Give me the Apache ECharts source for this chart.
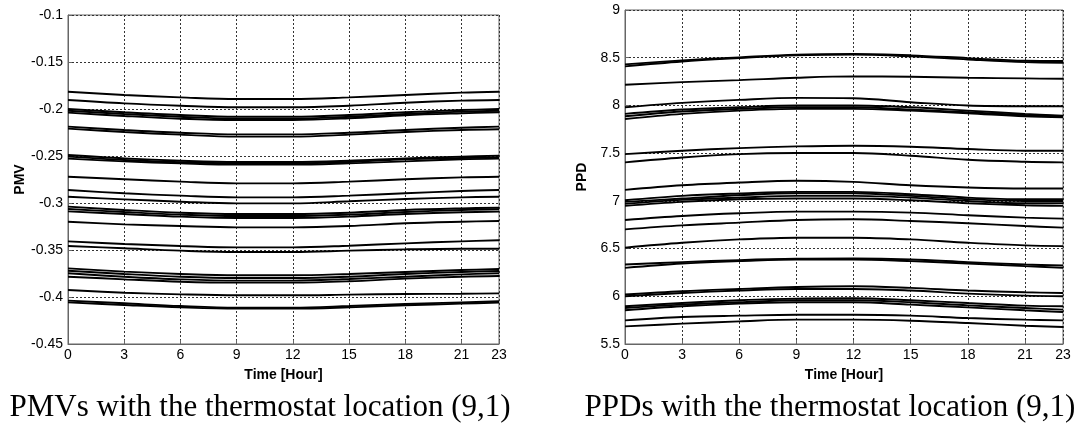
<!DOCTYPE html>
<html>
<head>
<meta charset="utf-8">
<script src="https://cdn.jsdelivr.net/npm/echarts@6/dist/echarts.min.js"></script>
<style>
html,body{margin:0;padding:0;background:#fff;}
#c{width:1086px;height:430px;}
</style>
</head>
<body>
<div id="c"></div>
<script>
// Sampled hours (x values) at which line values were read
const hours = [0, 3, 6, 9, 12, 15, 18, 21, 23];

// PMV lines (one array per line, values at the hours above)
const pmvLines = [
  [-0.1816, -0.1851, -0.1876, -0.1894, -0.1894, -0.1876, -0.1851, -0.1826, -0.1816],
  [-0.1904, -0.1940, -0.1965, -0.1982, -0.1982, -0.1965, -0.1933, -0.1911, -0.1904],
  [-0.2000, -0.2035, -0.2064, -0.2082, -0.2082, -0.2064, -0.2035, -0.2011, -0.2000],
  [-0.2018, -0.2053, -0.2082, -0.2103, -0.2103, -0.2082, -0.2053, -0.2028, -0.2018],
  [-0.2039, -0.2074, -0.2103, -0.2117, -0.2117, -0.2099, -0.2067, -0.2046, -0.2035],
  [-0.2188, -0.2223, -0.2252, -0.2270, -0.2270, -0.2252, -0.2223, -0.2199, -0.2188],
  [-0.2209, -0.2245, -0.2273, -0.2294, -0.2294, -0.2273, -0.2245, -0.2223, -0.2216],
  [-0.2489, -0.2525, -0.2550, -0.2564, -0.2564, -0.2550, -0.2525, -0.2507, -0.2496],
  [-0.2507, -0.2543, -0.2567, -0.2578, -0.2578, -0.2564, -0.2535, -0.2521, -0.2514],
  [-0.2528, -0.2557, -0.2578, -0.2592, -0.2592, -0.2578, -0.2557, -0.2535, -0.2528],
  [-0.2720, -0.2748, -0.2773, -0.2791, -0.2791, -0.2773, -0.2748, -0.2727, -0.2720],
  [-0.2862, -0.2897, -0.2922, -0.2940, -0.2940, -0.2922, -0.2897, -0.2872, -0.2862],
  [-0.2933, -0.2961, -0.2986, -0.3004, -0.3004, -0.2982, -0.2957, -0.2940, -0.2933],
  [-0.3039, -0.3074, -0.3103, -0.3117, -0.3117, -0.3103, -0.3074, -0.3057, -0.3050],
  [-0.3064, -0.3096, -0.3124, -0.3138, -0.3138, -0.3124, -0.3096, -0.3074, -0.3067],
  [-0.3089, -0.3117, -0.3145, -0.3160, -0.3160, -0.3145, -0.3117, -0.3099, -0.3092],
  [-0.3199, -0.3227, -0.3245, -0.3259, -0.3259, -0.3245, -0.3216, -0.3199, -0.3191],
  [-0.3408, -0.3436, -0.3457, -0.3472, -0.3472, -0.3454, -0.3429, -0.3408, -0.3397],
  [-0.3457, -0.3482, -0.3507, -0.3521, -0.3521, -0.3507, -0.3493, -0.3486, -0.3486],
  [-0.3695, -0.3730, -0.3755, -0.3769, -0.3769, -0.3755, -0.3734, -0.3713, -0.3702],
  [-0.3720, -0.3755, -0.3784, -0.3798, -0.3798, -0.3784, -0.3755, -0.3734, -0.3723],
  [-0.3748, -0.3784, -0.3812, -0.3826, -0.3826, -0.3808, -0.3784, -0.3759, -0.3748],
  [-0.3784, -0.3812, -0.3837, -0.3847, -0.3847, -0.3833, -0.3805, -0.3784, -0.3777],
  [-0.3926, -0.3954, -0.3972, -0.3982, -0.3982, -0.3975, -0.3968, -0.3965, -0.3961],
  [-0.4039, -0.4067, -0.4096, -0.4113, -0.4113, -0.4096, -0.4074, -0.4057, -0.4046],
  [-0.4057, -0.4085, -0.4110, -0.4124, -0.4124, -0.4110, -0.4088, -0.4071, -0.4060]
];

// PPD lines (one array per line, values at the hours above)
const ppdLines = [
  [8.430, 8.472, 8.504, 8.532, 8.539, 8.525, 8.496, 8.468, 8.465],
  [8.409, 8.461, 8.496, 8.525, 8.532, 8.514, 8.482, 8.454, 8.447],
  [8.216, 8.244, 8.265, 8.290, 8.304, 8.300, 8.290, 8.283, 8.279],
  [7.981, 8.027, 8.058, 8.079, 8.076, 8.034, 7.999, 7.992, 7.992],
  [7.911, 7.957, 7.981, 7.999, 7.999, 7.981, 7.946, 7.911, 7.893],
  [7.886, 7.936, 7.964, 7.981, 7.981, 7.957, 7.929, 7.900, 7.886],
  [7.858, 7.911, 7.946, 7.964, 7.964, 7.946, 7.918, 7.886, 7.876],
  [7.490, 7.525, 7.553, 7.571, 7.578, 7.567, 7.543, 7.525, 7.525],
  [7.403, 7.455, 7.490, 7.501, 7.501, 7.473, 7.431, 7.410, 7.403],
  [7.115, 7.164, 7.192, 7.210, 7.199, 7.164, 7.140, 7.129, 7.129],
  [7.006, 7.052, 7.077, 7.094, 7.094, 7.070, 7.034, 7.017, 7.017],
  [6.989, 7.024, 7.059, 7.080, 7.080, 7.052, 7.017, 6.999, 6.999],
  [6.968, 7.010, 7.034, 7.052, 7.052, 7.034, 6.999, 6.975, 6.975],
  [6.947, 6.989, 7.017, 7.024, 7.024, 7.006, 6.975, 6.954, 6.947],
  [6.800, 6.842, 6.870, 6.887, 6.887, 6.877, 6.849, 6.824, 6.814],
  [6.701, 6.743, 6.772, 6.800, 6.807, 6.789, 6.765, 6.736, 6.719],
  [6.509, 6.561, 6.596, 6.614, 6.614, 6.596, 6.561, 6.533, 6.526],
  [6.333, 6.358, 6.379, 6.393, 6.396, 6.386, 6.358, 6.333, 6.323],
  [6.298, 6.344, 6.368, 6.386, 6.386, 6.368, 6.344, 6.316, 6.298],
  [6.018, 6.053, 6.077, 6.098, 6.105, 6.088, 6.060, 6.042, 6.035],
  [6.000, 6.035, 6.060, 6.077, 6.077, 6.060, 6.028, 6.007, 6.000],
  [5.895, 5.930, 5.958, 5.976, 5.979, 5.958, 5.930, 5.902, 5.895],
  [5.877, 5.913, 5.937, 5.958, 5.958, 5.937, 5.905, 5.877, 5.860],
  [5.853, 5.895, 5.923, 5.937, 5.937, 5.913, 5.884, 5.853, 5.835],
  [5.748, 5.783, 5.797, 5.807, 5.807, 5.797, 5.772, 5.755, 5.748],
  [5.685, 5.713, 5.737, 5.755, 5.755, 5.744, 5.720, 5.692, 5.678]
];

const pmvTitle = 'PMV';
const ppdTitle = 'PPD';
const xTitle = 'Time [Hour]';
const captions = ['PMVs with the thermostat location (9,1)', 'PPDs with the thermostat location (9,1)'];

const chart = echarts.init(document.getElementById('c'), null, {renderer: 'canvas'});

const labelFont = {color: '#000', fontSize: 14, fontFamily: 'Arial, "Liberation Sans", sans-serif'};
const nameFont = {color: '#000', fontSize: 14, fontWeight: 'bold', fontFamily: 'Arial, "Liberation Sans", sans-serif'};
const gridLine = {show: true, lineStyle: {color: '#333', width: 1, type: [2, 2]}};
const axisLine = {show: true, onZero: false, lineStyle: {color: '#666', width: 1}};
const ticks = {show: true, inside: true, length: 4, lineStyle: {color: '#666'}};

function xAxis(gi) {
  return {
    type: 'value', gridIndex: gi, min: 0, max: 23, interval: 3,
    name: xTitle, nameLocation: 'middle', nameGap: 24, nameTextStyle: nameFont,
    axisLine: axisLine, axisTick: ticks,
    axisLabel: Object.assign({margin: 4}, labelFont),
    splitLine: gridLine
  };
}

function makeSeries(lines, gi) {
  return lines.map(vals => ({
    type: 'line', xAxisIndex: gi, yAxisIndex: gi,
    data: hours.map((h, k) => [h, vals[k]]),
    showSymbol: false, smooth: 0.35, silent: true,
    lineStyle: {color: '#000', width: 1.9},
    animation: false
  }));
}

const option = {
  animation: false,
  backgroundColor: '#fff',
  grid: [
    {left: 68, top: 15, width: 431, height: 329, show: true, borderColor: '#666', borderWidth: 1, backgroundColor: 'transparent'},
    {left: 625, top: 10, width: 438, height: 334, show: true, borderColor: '#666', borderWidth: 1, backgroundColor: 'transparent'}
  ],
  xAxis: [xAxis(0), xAxis(1)],
  yAxis: [
    {
      type: 'value', gridIndex: 0, min: -0.45, max: -0.1, interval: 0.05,
      name: pmvTitle, nameLocation: 'middle', nameGap: 40, nameRotate: 90, nameTextStyle: nameFont,
      axisLine: axisLine, axisTick: ticks,
      axisLabel: Object.assign({margin: 5, formatter: v => String(+v.toFixed(2))}, labelFont),
      splitLine: gridLine
    },
    {
      type: 'value', gridIndex: 1, min: 5.5, max: 9, interval: 0.5,
      name: ppdTitle, nameLocation: 'middle', nameGap: 36, nameRotate: 90, nameTextStyle: nameFont,
      axisLine: axisLine, axisTick: ticks,
      axisLabel: Object.assign({margin: 5, formatter: v => String(+v.toFixed(1))}, labelFont),
      splitLine: gridLine
    }
  ],
  graphic: [
    {type: 'text', x: 260, y: 408, style: {text: captions[0], fill: '#000', font: '31px "Liberation Serif", "Times New Roman", serif', textAlign: 'center', textVerticalAlign: 'middle'}},
    {type: 'text', x: 830, y: 408, style: {text: captions[1], fill: '#000', font: '31px "Liberation Serif", "Times New Roman", serif', textAlign: 'center', textVerticalAlign: 'middle'}}
  ],
  series: makeSeries(pmvLines, 0).concat(makeSeries(ppdLines, 1))
};
chart.setOption(option);
</script>
</body>
</html>
